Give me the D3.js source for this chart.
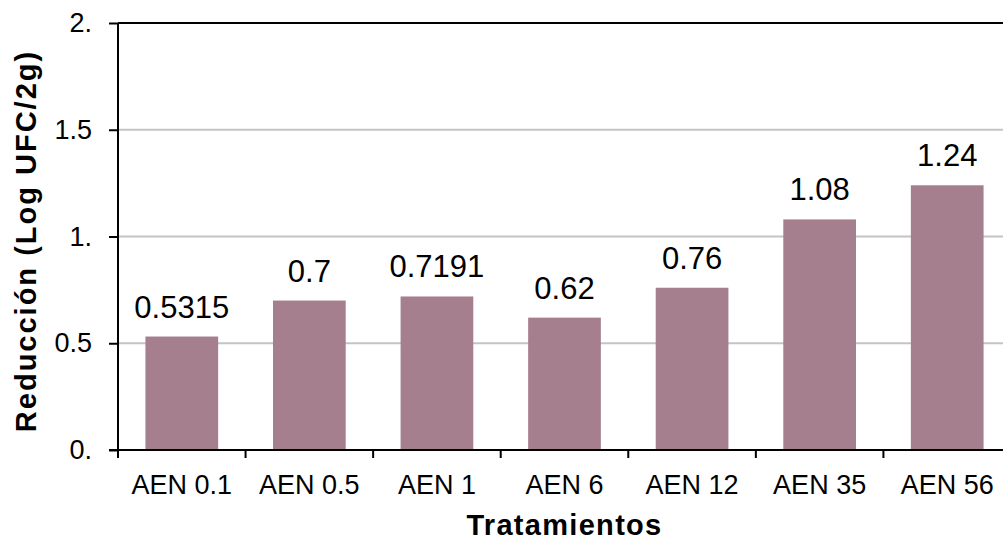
<!DOCTYPE html>
<html>
<head>
<meta charset="utf-8">
<script src="https://cdn.jsdelivr.net/npm/d3@7"></script>
<style>
  html, body { margin: 0; padding: 0; background: #fff; }
  svg { display: block; font-family: "Liberation Sans", Arial, sans-serif; }
</style>
</head>
<body>
<svg id="chart" width="1003" height="542"></svg>
<script>
// Treatments and their reduction values (Log UFC/2g)
const categories = ["AEN 0.1", "AEN 0.5", "AEN 1", "AEN 6", "AEN 12", "AEN 35", "AEN 56"];
const values = [0.5315, 0.7, 0.7191, 0.62, 0.76, 1.08, 1.24];
const valueLabels = ["0.5315", "0.7", "0.7191", "0.62", "0.76", "1.08", "1.24"];
const yTicks = [0, 0.5, 1, 1.5, 2];
const yTickLabels = ["0.", "0.5", "1.", "1.5", "2."];

const svg = d3.select("#chart");
const plotLeft = 118, plotRight = 1011, plotTop = 23, plotBottom = 450;

const x = d3.scaleBand().domain(categories).range([plotLeft, plotRight]).paddingInner(0.43).paddingOuter(0.215);
const xEdges = d3.scaleLinear().domain([0, categories.length]).range([plotLeft, plotRight]);
const y = d3.scaleLinear().domain([0, 2]).range([plotBottom, plotTop]);

// horizontal gridlines
svg.append("g").selectAll("line")
  .data(yTicks.filter(t => t > 0 && t < 2))
  .join("line")
  .attr("x1", plotLeft).attr("x2", plotRight)
  .attr("y1", d => y(d)).attr("y2", d => y(d))
  .attr("stroke", "#c4c4c4").attr("stroke-width", 2);

// top border line at the maximum
svg.append("line")
  .attr("x1", plotLeft).attr("x2", plotRight)
  .attr("y1", y(2)).attr("y2", y(2))
  .attr("stroke", "#000").attr("stroke-width", 2);

// bars
svg.append("g").selectAll("rect")
  .data(categories)
  .join("rect")
  .attr("x", d => x(d))
  .attr("width", x.bandwidth())
  .attr("y", (d, i) => y(values[i]))
  .attr("height", (d, i) => y(0) - y(values[i]))
  .attr("fill", "#a67f8f");

// value labels
svg.append("g").selectAll("text")
  .data(categories)
  .join("text")
  .attr("x", d => x(d) + x.bandwidth() / 2)
  .attr("y", (d, i) => y(values[i]) - 19)
  .attr("text-anchor", "middle")
  .attr("font-size", 31)
  .attr("fill", "#000")
  .text((d, i) => valueLabels[i]);

// y axis
const yAxis = d3.axisLeft(y)
  .tickValues(yTicks)
  .tickFormat((d, i) => yTickLabels[i])
  .tickSize(9)
  .tickPadding(17);
const gy = svg.append("g").attr("transform", `translate(${plotLeft},0)`).call(yAxis);
gy.attr("font-size", null).attr("font-family", null);
gy.select(".domain").attr("stroke", "#000").attr("stroke-width", 2).attr("d", `M0,${plotTop}V${plotBottom}`);
gy.selectAll(".tick line").attr("stroke", "#000").attr("stroke-width", 2);
gy.selectAll(".tick text").style("font-size", "27px").attr("fill", "#000");

// x axis baseline and boundary ticks
svg.append("line")
  .attr("x1", plotLeft - 9).attr("x2", plotRight)
  .attr("y1", plotBottom).attr("y2", plotBottom)
  .attr("stroke", "#000").attr("stroke-width", 2);
svg.append("g").selectAll("line")
  .data(d3.range(categories.length + 1))
  .join("line")
  .attr("x1", d => xEdges(d)).attr("x2", d => xEdges(d))
  .attr("y1", plotBottom).attr("y2", plotBottom + 8)
  .attr("stroke", "#000").attr("stroke-width", 2);

// category labels
svg.append("g").selectAll("text")
  .data(categories)
  .join("text")
  .attr("x", d => x(d) + x.bandwidth() / 2)
  .attr("y", 494)
  .attr("text-anchor", "middle")
  .attr("font-size", 27)
  .attr("fill", "#000")
  .text(d => d);

// axis titles
svg.append("text")
  .attr("x", (plotLeft + plotRight) / 2)
  .attr("y", 535)
  .attr("text-anchor", "middle")
  .attr("font-size", 29)
  .attr("font-weight", "bold")
  .attr("letter-spacing", "1.3px")
  .text("Tratamientos");

svg.append("text")
  .attr("transform", `translate(36,${241}) rotate(-90)`)
  .attr("text-anchor", "middle")
  .attr("font-size", 29)
  .attr("font-weight", "bold")
  .attr("letter-spacing", "2px")
  .text("Reducción (Log UFC/2g)");
</script>
</body>
</html>
